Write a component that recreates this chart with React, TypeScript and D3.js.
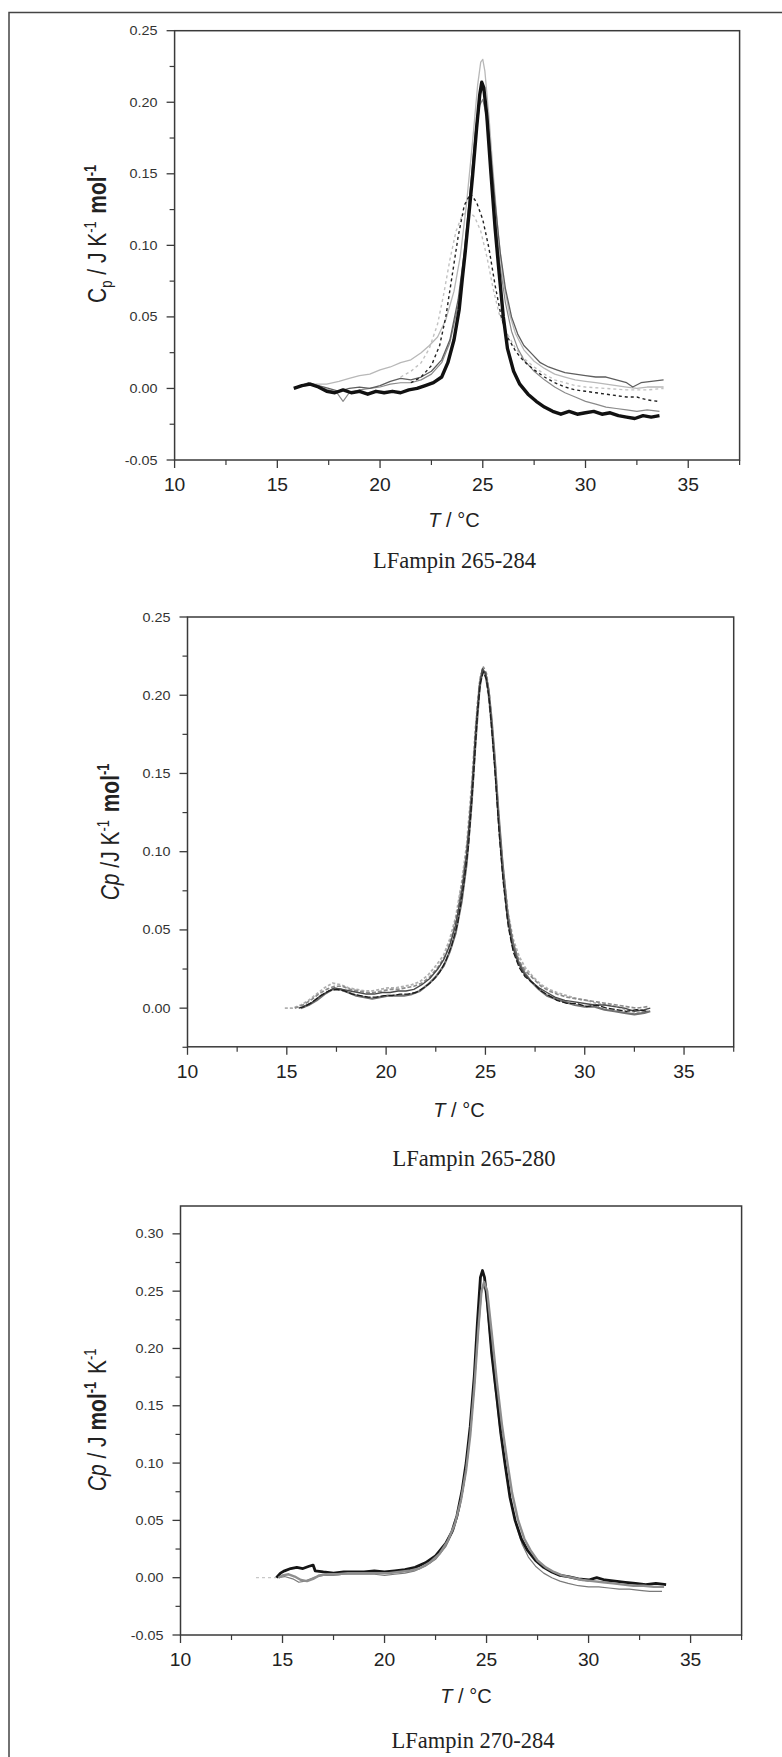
import React from "react";
import * as d3 from "d3";

// ---- axis ticks ----
const xMajorTicks = [10, 15, 20, 25, 30, 35];
const xMinorTicks = [12.5, 17.5, 22.5, 27.5, 32.5, 37.5];
const yMajor1 = [-0.05, 0, 0.05, 0.1, 0.15, 0.2, 0.25];
const yMinor1 = [-0.025, 0.025, 0.075, 0.125, 0.175, 0.225];
const yMajor2 = [0, 0.05, 0.1, 0.15, 0.2, 0.25];
const yMinor2 = [-0.025, 0.025, 0.075, 0.125, 0.175, 0.225];
const yMajor3 = [-0.05, 0, 0.05, 0.1, 0.15, 0.2, 0.25, 0.3];
const yMinor3 = [-0.025, 0.025, 0.075, 0.125, 0.175, 0.225, 0.275];
const captions = ["LFampin 265-284", "LFampin 265-280", "LFampin 270-284"];

// ---- LFampin 265-284 ----
const p1Black: [number, number][] = [[15.8,0.000],[16.2,0.002],[16.6,0.003],[17.0,0.001],[17.4,-0.002],[17.8,-0.003],[18.2,-0.001],[18.6,-0.003],[19.0,-0.002],[19.4,-0.004],[19.8,-0.002],[20.2,-0.003],[20.6,-0.002],[21.0,-0.003],[21.4,-0.001],[21.8,0.000],[22.2,0.002],[22.6,0.004],[23.0,0.008],[23.3,0.018],[23.6,0.034],[23.85,0.055],[24.0,0.076],[24.15,0.096],[24.3,0.118],[24.5,0.148],[24.7,0.182],[24.85,0.205],[24.95,0.214],[25.05,0.210],[25.2,0.190],[25.4,0.150],[25.6,0.112],[25.8,0.080],[26.0,0.050],[26.2,0.028],[26.5,0.012],[26.8,0.003],[27.2,-0.004],[27.6,-0.009],[28.0,-0.013],[28.4,-0.016],[28.8,-0.018],[29.2,-0.016],[29.6,-0.018],[30.0,-0.017],[30.4,-0.016],[30.8,-0.018],[31.2,-0.017],[31.6,-0.019],[32.0,-0.020],[32.4,-0.021],[32.8,-0.019],[33.2,-0.020],[33.6,-0.019]];
const p1DarkGrey: [number, number][] = [[16.0,0.001],[16.5,0.004],[17.0,0.002],[17.5,0.000],[18.0,-0.002],[18.5,0.000],[19.0,0.001],[19.5,0.000],[20.0,0.002],[20.5,0.005],[21.0,0.007],[21.5,0.006],[22.0,0.008],[22.5,0.012],[23.0,0.020],[23.4,0.034],[23.8,0.062],[24.1,0.095],[24.4,0.140],[24.65,0.180],[24.85,0.205],[25.0,0.210],[25.15,0.200],[25.35,0.170],[25.6,0.130],[25.85,0.095],[26.1,0.070],[26.4,0.050],[26.7,0.038],[27.0,0.030],[27.4,0.024],[27.8,0.018],[28.2,0.015],[28.6,0.013],[29.0,0.011],[29.5,0.010],[30.0,0.009],[30.5,0.008],[31.0,0.008],[31.5,0.006],[32.0,0.004],[32.3,0.001],[32.7,0.004],[33.2,0.005],[33.8,0.006]];
const p1LightGrey: [number, number][] = [[16.2,0.002],[16.8,0.003],[17.4,0.003],[18.0,0.005],[18.5,0.007],[19.0,0.009],[19.5,0.010],[20.0,0.013],[20.5,0.015],[21.0,0.018],[21.5,0.020],[22.0,0.025],[22.4,0.030],[22.8,0.036],[23.2,0.048],[23.6,0.068],[23.9,0.092],[24.2,0.128],[24.5,0.172],[24.75,0.212],[24.9,0.228],[25.0,0.230],[25.1,0.222],[25.3,0.190],[25.5,0.152],[25.75,0.108],[26.0,0.075],[26.3,0.052],[26.6,0.038],[27.0,0.027],[27.5,0.019],[28.0,0.014],[28.5,0.010],[29.0,0.008],[29.5,0.006],[30.0,0.005],[30.5,0.004],[31.0,0.003],[31.5,0.002],[32.0,0.001],[32.5,0.000],[33.0,0.001],[33.8,0.001]];
const p1Grey: [number, number][] = [[16.0,0.001],[16.5,0.003],[17.0,0.001],[17.5,-0.001],[17.9,-0.003],[18.2,-0.009],[18.5,-0.003],[19.0,-0.001],[19.5,0.000],[20.0,0.001],[20.5,0.003],[21.0,0.004],[21.5,0.004],[22.0,0.006],[22.5,0.010],[23.0,0.018],[23.4,0.032],[23.8,0.058],[24.1,0.090],[24.4,0.135],[24.65,0.175],[24.85,0.198],[25.0,0.202],[25.15,0.192],[25.35,0.162],[25.6,0.120],[25.85,0.085],[26.1,0.060],[26.4,0.040],[26.7,0.028],[27.0,0.020],[27.5,0.012],[28.0,0.006],[28.5,0.001],[29.0,-0.003],[29.5,-0.006],[30.0,-0.009],[30.5,-0.011],[31.0,-0.013],[31.5,-0.014],[32.0,-0.015],[32.5,-0.016],[33.0,-0.015],[33.6,-0.016]];
const p1DashBlack: [number, number][] = [[21.5,0.004],[22.0,0.008],[22.5,0.016],[22.9,0.030],[23.2,0.050],[23.5,0.078],[23.8,0.106],[24.1,0.128],[24.4,0.136],[24.7,0.130],[25.0,0.118],[25.3,0.098],[25.6,0.072],[25.9,0.050],[26.2,0.036],[26.6,0.026],[27.0,0.019],[27.5,0.013],[28.0,0.008],[28.5,0.004],[29.0,0.001],[29.5,-0.001],[30.0,-0.002],[30.5,-0.003],[31.0,-0.004],[31.5,-0.005],[32.0,-0.006],[32.5,-0.006],[33.0,-0.008],[33.5,-0.009]];
const p1DashLight: [number, number][] = [[21.0,0.008],[21.5,0.012],[22.0,0.018],[22.4,0.028],[22.8,0.045],[23.1,0.066],[23.4,0.090],[23.7,0.110],[24.0,0.121],[24.3,0.124],[24.6,0.120],[24.9,0.110],[25.2,0.092],[25.5,0.070],[25.8,0.052],[26.2,0.038],[26.6,0.028],[27.0,0.021],[27.5,0.015],[28.0,0.010],[28.5,0.006],[29.0,0.004],[29.5,0.002],[30.0,0.001],[31.0,0.000],[32.0,-0.001],[33.0,-0.001],[33.8,0.000]];

// ---- LFampin 265-280 ----
const p2A: [number, number][] = [[15.6,0.000],[15.9,0.001],[16.3,0.004],[16.7,0.008],[17.1,0.011],[17.5,0.012],[17.9,0.011],[18.3,0.009],[18.7,0.008],[19.1,0.007],[19.5,0.007],[19.9,0.008],[20.3,0.008],[20.7,0.009],[21.1,0.009],[21.5,0.010],[21.9,0.013],[22.3,0.017],[22.7,0.023],[23.0,0.030],[23.3,0.040],[23.6,0.054],[23.9,0.078],[24.15,0.104],[24.4,0.148],[24.6,0.188],[24.75,0.208],[24.9,0.215],[25.05,0.210],[25.2,0.196],[25.35,0.173],[25.5,0.148],[25.7,0.110],[25.9,0.080],[26.15,0.052],[26.4,0.036],[26.7,0.026],[27.0,0.020],[27.4,0.016],[27.8,0.011],[28.2,0.008],[28.6,0.005],[29.1,0.003],[29.6,0.003],[30.1,0.001],[30.6,0.002],[31.1,0.000],[31.6,-0.001],[32.1,-0.002],[32.6,-0.001],[33.2,-0.002]];
const p2B: [number, number][] = [[15.8,0.001],[16.2,0.003],[16.6,0.007],[17.0,0.010],[17.4,0.013],[17.8,0.012],[18.2,0.011],[18.6,0.010],[19.0,0.009],[19.4,0.009],[19.8,0.010],[20.2,0.010],[20.6,0.011],[21.0,0.011],[21.4,0.012],[21.8,0.015],[22.2,0.019],[22.6,0.025],[22.9,0.031],[23.2,0.040],[23.5,0.053],[23.8,0.074],[24.05,0.098],[24.3,0.136],[24.5,0.176],[24.7,0.206],[24.85,0.217],[25.0,0.214],[25.15,0.202],[25.3,0.182],[25.45,0.158],[25.65,0.120],[25.85,0.088],[26.1,0.058],[26.35,0.040],[26.65,0.029],[26.95,0.022],[27.3,0.017],[27.7,0.013],[28.1,0.010],[28.5,0.007],[29.0,0.005],[29.5,0.004],[30.0,0.003],[30.5,0.002],[31.0,0.002],[31.5,0.001],[32.0,0.000],[32.5,-0.002],[33.0,-0.001],[33.3,0.000]];
const p2C: [number, number][] = [[15.4,0.000],[15.8,0.002],[16.2,0.005],[16.6,0.009],[17.0,0.012],[17.4,0.014],[17.8,0.014],[18.2,0.012],[18.6,0.011],[19.0,0.010],[19.4,0.010],[19.8,0.011],[20.2,0.012],[20.6,0.012],[21.0,0.013],[21.4,0.014],[21.8,0.016],[22.2,0.020],[22.6,0.026],[23.0,0.034],[23.3,0.045],[23.6,0.062],[23.9,0.086],[24.15,0.112],[24.4,0.155],[24.6,0.194],[24.75,0.212],[24.9,0.218],[25.05,0.214],[25.2,0.200],[25.35,0.178],[25.5,0.154],[25.7,0.116],[25.9,0.086],[26.15,0.057],[26.4,0.041],[26.7,0.030],[27.0,0.024],[27.4,0.019],[27.8,0.014],[28.2,0.011],[28.6,0.009],[29.1,0.007],[29.6,0.006],[30.1,0.005],[30.6,0.004],[31.1,0.003],[31.6,0.002],[32.1,0.001],[32.6,0.000],[33.2,0.001]];
const p2D: [number, number][] = [[14.9,0.000],[15.3,0.000],[15.7,0.002],[16.1,0.005],[16.5,0.009],[16.9,0.013],[17.3,0.016],[17.7,0.015],[18.1,0.013],[18.5,0.012],[18.9,0.011],[19.3,0.011],[19.7,0.012],[20.1,0.013],[20.5,0.013],[20.9,0.014],[21.3,0.015],[21.7,0.017],[22.1,0.021],[22.5,0.027],[22.9,0.034],[23.2,0.044],[23.5,0.058],[23.8,0.080],[24.05,0.104],[24.3,0.142],[24.5,0.180],[24.7,0.208],[24.85,0.216],[25.0,0.212],[25.15,0.200],[25.3,0.180],[25.5,0.152],[25.7,0.116],[25.9,0.088],[26.15,0.060],[26.4,0.044],[26.7,0.033],[27.0,0.026],[27.4,0.020],[27.8,0.015],[28.2,0.012],[28.6,0.010],[29.1,0.008],[29.6,0.006],[30.1,0.005],[30.6,0.003],[31.1,0.002],[31.6,0.001],[32.1,-0.001],[32.6,-0.003],[33.2,-0.002]];
const p2E: [number, number][] = [[15.7,0.000],[16.1,0.002],[16.5,0.005],[16.9,0.009],[17.3,0.012],[17.7,0.012],[18.1,0.010],[18.5,0.008],[18.9,0.007],[19.3,0.006],[19.7,0.007],[20.1,0.008],[20.5,0.008],[20.9,0.008],[21.3,0.009],[21.7,0.011],[22.1,0.015],[22.5,0.020],[22.9,0.027],[23.2,0.036],[23.5,0.048],[23.8,0.068],[24.05,0.092],[24.3,0.130],[24.5,0.170],[24.7,0.204],[24.85,0.216],[25.0,0.214],[25.15,0.204],[25.3,0.186],[25.45,0.163],[25.65,0.126],[25.85,0.094],[26.1,0.062],[26.35,0.043],[26.65,0.030],[26.95,0.023],[27.3,0.017],[27.7,0.012],[28.1,0.008],[28.5,0.006],[29.0,0.004],[29.5,0.002],[30.0,0.001],[30.5,0.001],[31.0,-0.001],[31.5,-0.002],[32.0,-0.003],[32.5,-0.004],[33.0,-0.003],[33.3,-0.002]];

// ---- LFampin 270-284 ----
const p3Black: [number, number][] = [[14.7,0.000],[14.9,0.004],[15.1,0.006],[15.4,0.008],[15.7,0.009],[16.0,0.008],[16.3,0.010],[16.5,0.011],[16.6,0.006],[17.0,0.005],[17.5,0.004],[18.0,0.005],[18.5,0.005],[19.0,0.005],[19.5,0.006],[20.0,0.005],[20.5,0.006],[21.0,0.007],[21.5,0.009],[22.0,0.013],[22.5,0.019],[23.0,0.030],[23.3,0.040],[23.55,0.054],[23.8,0.076],[24.0,0.100],[24.2,0.132],[24.4,0.176],[24.55,0.222],[24.7,0.262],[24.8,0.268],[24.9,0.262],[25.05,0.238],[25.25,0.196],[25.5,0.158],[25.7,0.126],[25.9,0.100],[26.15,0.070],[26.4,0.050],[26.7,0.034],[27.0,0.024],[27.4,0.015],[27.8,0.009],[28.2,0.005],[28.6,0.002],[29.0,0.001],[29.5,-0.001],[30.0,-0.002],[30.4,0.000],[30.8,-0.002],[31.3,-0.003],[31.8,-0.004],[32.3,-0.005],[32.8,-0.006],[33.3,-0.005],[33.8,-0.006]];
const p3Grey: [number, number][] = [[14.8,0.000],[15.0,0.002],[15.3,0.003],[15.6,0.001],[15.9,-0.002],[16.2,-0.003],[16.5,-0.001],[16.8,0.002],[17.2,0.003],[17.7,0.003],[18.2,0.004],[18.7,0.004],[19.2,0.004],[19.7,0.004],[20.2,0.004],[20.7,0.005],[21.2,0.006],[21.7,0.008],[22.2,0.013],[22.7,0.021],[23.1,0.032],[23.45,0.047],[23.75,0.068],[24.0,0.094],[24.2,0.124],[24.4,0.166],[24.6,0.218],[24.75,0.250],[24.88,0.258],[25.03,0.250],[25.25,0.214],[25.5,0.172],[25.75,0.134],[26.0,0.103],[26.25,0.074],[26.55,0.050],[26.85,0.034],[27.15,0.024],[27.5,0.015],[27.9,0.009],[28.3,0.005],[28.7,0.002],[29.2,0.000],[29.7,-0.002],[30.2,-0.003],[30.7,-0.004],[31.2,-0.005],[31.7,-0.006],[32.2,-0.007],[32.7,-0.007],[33.2,-0.008],[33.7,-0.008]];
const p3Thin: [number, number][] = [[14.8,0.000],[15.1,0.001],[15.5,-0.001],[15.8,-0.004],[16.1,-0.003],[16.5,0.000],[17.0,0.002],[17.5,0.002],[18.0,0.003],[18.5,0.003],[19.0,0.003],[19.5,0.003],[20.0,0.002],[20.5,0.003],[21.0,0.004],[21.5,0.006],[22.0,0.010],[22.5,0.016],[23.0,0.027],[23.4,0.042],[23.7,0.062],[23.95,0.088],[24.2,0.126],[24.4,0.168],[24.6,0.215],[24.75,0.248],[24.85,0.255],[24.95,0.250],[25.15,0.212],[25.4,0.168],[25.65,0.130],[25.9,0.098],[26.15,0.070],[26.45,0.046],[26.75,0.029],[27.05,0.018],[27.4,0.010],[27.8,0.004],[28.2,0.000],[28.6,-0.003],[29.0,-0.005],[29.5,-0.007],[30.0,-0.008],[30.5,-0.008],[31.0,-0.009],[31.5,-0.010],[32.0,-0.010],[32.5,-0.011],[33.0,-0.012],[33.6,-0.012]];
const p3Lead: [number, number][] = [[13.7,0.000],[14.7,0.000]];

type Series = { data: [number, number][]; color: string; width: number; dash?: string };

const font = "'Liberation Sans', Arial, sans-serif";
const serif = "'Liberation Serif', 'Times New Roman', serif";
const axisColor = "#3a3a3a";

const fmt = (v: number) => d3.format(".2f")(v).replace("\u2212", "-");

function Panel(props: {
  box: { left: number; right: number; top: number; bottom: number };
  yDomain: [number, number];
  yMajor: number[];
  yMinor: number[];
  series: Series[];
  yLabel: React.ReactNode;
  yLabelPos: [number, number];
  titlePos: [number, number];
  caption: string;
  captionPos: [number, number];
}) {
  const { box, yDomain, yMajor, yMinor, series } = props;
  const x = d3.scaleLinear().domain([10, 37.5]).range([box.left, box.right]);
  const y = d3.scaleLinear().domain(yDomain).range([box.bottom, box.top]);
  const line = d3.line<[number, number]>().x((d) => x(d[0])).y((d) => y(d[1]));
  return (
    <g>
      <g fill="none" strokeLinejoin="round" strokeLinecap="butt">
        {series.map((s, i) => (
          <path key={i} d={line(s.data) || ""} stroke={s.color} strokeWidth={s.width} strokeDasharray={s.dash} />
        ))}
      </g>
      <rect x={box.left} y={box.top} width={box.right - box.left} height={box.bottom - box.top}
        fill="none" stroke={axisColor} strokeWidth={1.5} />
      {yMajor.map((v) => (
        <g key={"ym" + v}>
          <line x1={box.left - 8} x2={box.left} y1={y(v)} y2={y(v)} stroke={axisColor} strokeWidth={1.3} />
          <text transform={`translate(${box.left - 17},${y(v) + 4.5}) scale(1.15,1)`} textAnchor="end"
            fontFamily={font} fontSize={12.5} fill="#333">{fmt(v)}</text>
        </g>
      ))}
      {yMinor.map((v) => (
        <line key={"yn" + v} x1={box.left - 5} x2={box.left} y1={y(v)} y2={y(v)} stroke={axisColor} strokeWidth={1.2} />
      ))}
      {xMajorTicks.map((v) => (
        <g key={"xm" + v}>
          <line x1={x(v)} x2={x(v)} y1={box.bottom} y2={box.bottom + 8} stroke={axisColor} strokeWidth={1.3} />
          <text transform={`translate(${x(v)},${box.bottom + 31}) scale(1.1,1)`} textAnchor="middle"
            fontFamily={font} fontSize={17.5} fill="#222">{v}</text>
        </g>
      ))}
      {xMinorTicks.map((v) => (
        <line key={"xn" + v} x1={x(v)} x2={x(v)} y1={box.bottom} y2={box.bottom + 5} stroke={axisColor} strokeWidth={1.2} />
      ))}
      <text transform={`translate(${props.yLabelPos[0]},${props.yLabelPos[1]}) scale(1.2,1) rotate(-90)`} textAnchor="middle"
        fontFamily={font} fontSize={21} fill="#222">{props.yLabel}</text>
      <text x={props.titlePos[0]} y={props.titlePos[1]} textAnchor="middle" fontFamily={font} fontSize={20} fill="#222">
        <tspan fontStyle="italic">T</tspan> / °C
      </text>
      <text x={props.captionPos[0]} y={props.captionPos[1]} textAnchor="middle" fontFamily={serif} fontSize={22.5} fill="#222">
        {props.caption}
      </text>
    </g>
  );
}

export default function App() {
  const sup = (t: string, bold = false) => (
    <>
      <tspan dy={-8} fontSize={13} fontWeight={bold ? "bold" : undefined}>{t}</tspan>
      <tspan dy={8}>{"\u200a"}</tspan>
    </>
  );
  return (
    <div style={{ position: "absolute", left: 0, top: 0 }}>
      <svg width={782} height={1757} style={{ display: "block", background: "#fff" }}>
        <rect x={9} y={12.5} width={800} height={1800} fill="none" stroke="#444" strokeWidth={1.5} />
        <Panel
          box={{ left: 174.6, right: 739.6, top: 30.7, bottom: 460 }}
          yDomain={[-0.05, 0.25]} yMajor={yMajor1} yMinor={yMinor1}
          series={[
            { data: p1DashLight, color: "#c2c2c2", width: 1.4, dash: "3,3" },
            { data: p1LightGrey, color: "#b8b8b8", width: 1.3 },
            { data: p1Grey, color: "#8a8a8a", width: 1.2 },
            { data: p1DarkGrey, color: "#5e5e5e", width: 1.3 },
            { data: p1DashBlack, color: "#222", width: 1.4, dash: "3,3" },
            { data: p1Black, color: "#111", width: 3.4 },
          ]}
          yLabel={<><tspan>C</tspan><tspan dy={5} fontSize={13}>p</tspan><tspan dy={-5}> / J K</tspan>{sup("-1")}<tspan> </tspan><tspan fontWeight="bold">mol</tspan>{sup("-1", true)}</>}
          yLabelPos={[106, 233]} titlePos={[454, 527]} caption={captions[0]} captionPos={[454.5, 568]}
        />
        <Panel
          box={{ left: 187.5, right: 733.7, top: 617, bottom: 1046.8 }}
          yDomain={[-0.0247, 0.25]} yMajor={yMajor2} yMinor={yMinor2}
          series={[
            { data: p2D, color: "#b0b0b0", width: 1.8, dash: "3,2" },
            { data: p2C, color: "#8c8c8c", width: 1.7, dash: "4,2" },
            { data: p2E, color: "#707070", width: 2.2 },
            { data: p2B, color: "#4a4a4a", width: 1.4 },
            { data: p2A, color: "#1c1c1c", width: 1.3, dash: "6,2" },
          ]}
          yLabel={<><tspan fontStyle="italic">Cp</tspan><tspan> /J K</tspan>{sup("-1")}<tspan> </tspan><tspan fontWeight="bold">mol</tspan>{sup("-1", true)}</>}
          yLabelPos={[119, 831]} titlePos={[459, 1117]} caption={captions[1]} captionPos={[474, 1166]}
        />
        <Panel
          box={{ left: 180.5, right: 741.6, top: 1206, bottom: 1635 }}
          yDomain={[-0.05, 0.3243]} yMajor={yMajor3} yMinor={yMinor3}
          series={[
            { data: p3Lead, color: "#c8c8c8", width: 1.2, dash: "3,3" },
            { data: p3Thin, color: "#7a7a7a", width: 1.2 },
            { data: p3Black, color: "#151515", width: 2.8 },
            { data: p3Grey, color: "#8e8e8e", width: 2.4 },
          ]}
          yLabel={<><tspan fontStyle="italic">Cp</tspan><tspan>  / J </tspan><tspan fontWeight="bold">mol</tspan>{sup("-1", true)}<tspan> K</tspan>{sup("-1")}</>}
          yLabelPos={[106, 1419]} titlePos={[466, 1703]} caption={captions[2]} captionPos={[473, 1748]}
        />
      </svg>
    </div>
  );
}
